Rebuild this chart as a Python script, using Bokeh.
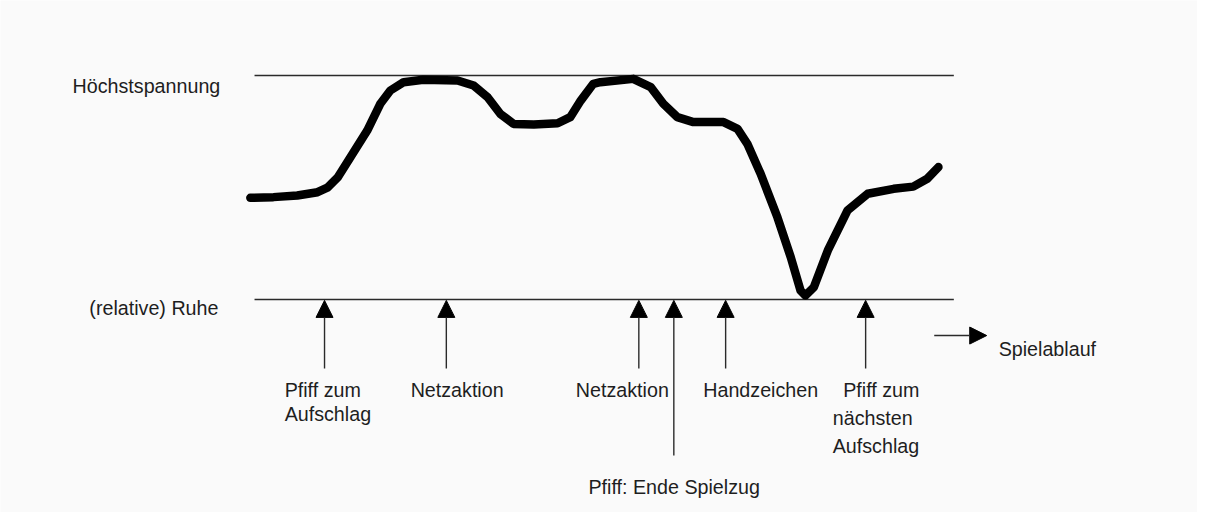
from bokeh.plotting import figure
from bokeh.models import Range1d, Arrow, NormalHead, ColumnDataSource
from bokeh.core.properties import value
from bokeh.embed import file_html
from bokeh.resources import INLINE

# ---- data: tension over the course of a rally (0 = relative rest, 100 = maximum) ----
time = [-0.6, 2.7, 6.1, 9.0, 10.4, 11.9, 13.7, 16.1, 18.0, 19.4, 21.3, 24.1, 29.0, 31.3,
        33.3, 35.1, 37.0, 39.9, 43.3, 45.1, 46.6, 48.4, 49.4, 54.1, 56.6, 58.4, 60.4, 62.7,
        67.0, 69.0, 70.4, 72.3, 74.7, 76.6, 78.0, 78.7, 79.9, 81.9, 84.7, 87.6, 91.3, 94.1,
        96.1, 97.7]
tension = [45.4, 45.7, 46.4, 47.9, 49.9, 54.6, 63.5, 75.4, 87.5, 93.3, 97.0, 98.1, 97.8, 95.5,
           90.3, 82.9, 78.4, 78.1, 78.7, 81.4, 88.8, 96.3, 97.0, 98.5, 94.8, 87.4, 81.4, 79.2,
           79.2, 76.2, 69.5, 56.1, 36.7, 18.9, 4.0, 1.8, 5.5, 21.9, 39.7, 47.2, 49.4, 50.4,
           53.9, 59.1]

level_names = ["Höchstspannung", "(relative) Ruhe"]
level_values = [100, 0]

event_times = [10.0, 27.4, 54.9, 59.9, 67.3, 87.3]
event_labels = ["Pfiff zum\nAufschlag", "Netzaktion", "Netzaktion",
                "Pfiff: Ende Spielzug", "Handzeichen", "Pfiff zum\nnächsten\nAufschlag"]
axis_label = "Spielablauf"

# ---- layout (not data) ----
X0, X1 = -36.29, 134.71
Y0, Y1 = -95.09, 133.48
FONT = value("Liberation Sans")
FS = "19.7px"
TXT = "#1e1e1e"

p = figure(width=1197, height=512, x_range=Range1d(X0, X1), y_range=Range1d(Y0, Y1),
           x_axis_type=None, y_axis_type=None, toolbar_location=None,
           output_backend="svg", min_border=0)
p.min_border_left = p.min_border_right = p.min_border_top = p.min_border_bottom = 0
p.grid.visible = False
p.outline_line_color = None
p.background_fill_color = "#fafafa"
p.border_fill_color = "#fafafa"

# reference levels
p.multi_line(xs=[[0, 99.9]] * 2, ys=[[v, v] for v in level_values],
             line_color="#2a2a2a", line_width=1.4)
p.text(x=[-26.0, -23.6], y=[95.1, -3.6], text=level_names, text_font=FONT,
       text_font_size=FS, text_color=TXT, text_baseline="alphabetic", text_align="left")

# tension curve
p.line(time, tension, line_color="black", line_width=8.5, line_join="round", line_cap="round")

# event arrows
shaft_bottom = [-30.8, -30.8, -30.8, -69.6, -30.8, -30.8]
src = ColumnDataSource(dict(x=event_times, y0=shaft_bottom, y1=[-0.4] * len(event_times)))
p.add_layout(Arrow(end=NormalHead(size=17, fill_color="black", line_color="black", line_width=1),
                   x_start="x", y_start="y0", x_end="x", y_end="y1", source=src,
                   line_color="#2a2a2a", line_width=1.4))

# event labels (one row per text line)
lab_x, lab_y, lab_t = [], [], []
positions = {
    0: [(4.3, -40.6), (4.3, -51.3)],
    1: [(22.3, -40.6)],
    2: [(45.9, -40.6)],
    3: [(47.7, -83.9)],
    4: [(64.1, -40.6)],
    5: [(84.1, -40.6), (82.6, -53.1), (82.6, -65.6)],
}
for i, lab in enumerate(event_labels):
    for (lx, ly), line in zip(positions[i], lab.split("\n")):
        lab_x.append(lx); lab_y.append(ly); lab_t.append(line)
p.text(x=lab_x, y=lab_y, text=lab_t, text_font=FONT, text_font_size=FS, text_color=TXT,
       text_baseline="alphabetic", text_align="left")

# time direction arrow
p.add_layout(Arrow(end=NormalHead(size=17, fill_color="black", line_color="black", line_width=1),
                   x_start=97.1, y_start=-16.1, x_end=104.6, y_end=-16.1,
                   line_color="#2a2a2a", line_width=1.4))
p.text(x=[106.3], y=[-22.3], text=[axis_label], text_font=FONT, text_font_size=FS,
       text_color=TXT, text_baseline="alphabetic", text_align="left")

open("out.html", "w").write(file_html(p, INLINE))
